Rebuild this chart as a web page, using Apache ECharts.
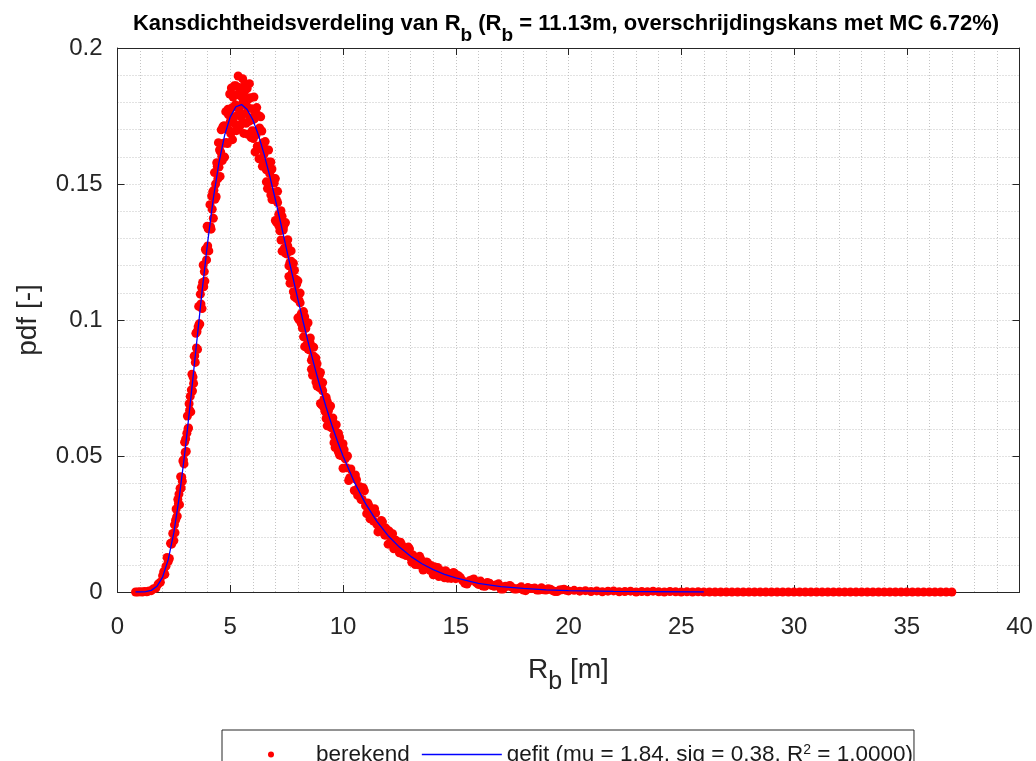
<!DOCTYPE html>
<html>
<head>
<meta charset="utf-8">
<title>Kansdichtheidsverdeling van Rb</title>
<script src="https://cdn.jsdelivr.net/npm/echarts@6/dist/echarts.min.js"></script>
<style>
  html, body { margin: 0; padding: 0; background: #fff; }
  #main { width: 1036px; height: 761px; }
</style>
</head>
<body>
<div id="main"></div>
<script>
// teksten
var titelTekst = 'Kansdichtheidsverdeling van R{sub|b} (R{sub|b} = 11.13m, overschrijdingskans met MC 6.72%)';
var xTitel = 'R{sub|b} [m]';
var yTitel = 'pdf [-]';
var legendaGefit = 'gefit (mu = 1.84, sig = 0.38, R{sup|2} = 1.0000)';

var fitX = [0.8, 1.0, 1.25, 1.5, 1.75, 2.0, 2.25, 2.5, 2.75, 3.0, 3.25, 3.5, 3.75, 4.0, 4.25, 4.5, 4.75,
  5.0, 5.25, 5.5, 5.75, 6.0, 6.25, 6.5, 6.75, 7.0, 7.25, 7.5, 7.75, 8.0, 8.25, 8.5, 8.75, 9.0, 9.25,
  9.5, 9.75, 10, 10.5, 11, 11.5, 12, 12.5, 13, 13.5, 14, 14.5, 15, 16, 17, 18, 19, 20, 22, 24, 26];
var fitY = [0, 0.0000, 0.0001, 0.0006, 0.0021, 0.0055, 0.0119, 0.0219, 0.0355, 0.0522, 0.0711, 0.0909,
  0.1105, 0.1287, 0.1447, 0.1579, 0.1679, 0.1747, 0.1784, 0.1792, 0.1774, 0.1736, 0.1680, 0.1610,
  0.1530, 0.1443, 0.1352, 0.1259, 0.1167, 0.1076, 0.0988, 0.0904, 0.0825, 0.0750, 0.0680, 0.0615,
  0.0555, 0.0500, 0.0404, 0.0325, 0.0260, 0.0207, 0.0165, 0.0131, 0.0104, 0.0082, 0.0065, 0.0052,
  0.0032, 0.0020, 0.0013, 0.0008, 0.0005, 0.0002, 0.0001, 0.0000];

var berekend = [
  [0.8,0],[0.9,0],[1.0,0.0001],[1.1,0],[1.2,0.0002],[1.3,0.0001],[1.4,0.0004],[1.5,0.0005],
  [1.6,0.0012],[1.7,0.0014],[1.8,0.0029],[1.9,0.0036],[2.0,0.0060],
  [2.05,0.0075],[2.1,0.0065],[2.15,0.0095],[2.2,0.0127],[2.25,0.0112],[2.3,0.0123],[2.35,0.0179],
  [2.4,0.0176],[2.45,0.0215],[2.5,0.0189],
  [2.525,0.0247],[2.55,0.0218],[2.575,0.0264],[2.6,0.0305],[2.625,0.0276],[2.65,0.0279],[2.675,0.0340],
  [2.7,0.0324],[2.725,0.0360],[2.75,0.0321],
  [2.775,0.0381],[2.8,0.0424],[2.825,0.0382],[2.85,0.0422],[2.875,0.0407],[2.9,0.0482],[2.925,0.0486],
  [2.95,0.0471],[2.975,0.0551],[3.0,0.0513],
  [3.025,0.0563],[3.05,0.0517],[3.075,0.0584],[3.1,0.0647],[3.125,0.0600],[3.15,0.0603],[3.175,0.0692],
  [3.2,0.0668],[3.225,0.0719],[3.25,0.0662],
  [3.275,0.0743],[3.3,0.0801],[3.325,0.0739],[3.35,0.0790],[3.375,0.0767],[3.4,0.0867],[3.425,0.0869],
  [3.45,0.0844],[3.475,0.0951],[3.5,0.0897],
  [3.525,0.0957],[3.55,0.0892],[3.575,0.0975],[3.6,0.1050],[3.625,0.0986],[3.65,0.0985],[3.675,0.1095],
  [3.7,0.1059],[3.725,0.1120],[3.75,0.1042],
  [3.775,0.1138],[3.8,0.1202],[3.825,0.1122],[3.85,0.1178],[3.875,0.1143],[3.9,0.1260],[3.925,0.1255],
  [3.95,0.1221],[3.975,0.1345],[4.0,0.1272],
  [4.025,0.1335],[4.05,0.1254],[4.075,0.1343],[4.1,0.1424],[4.125,0.1343],[4.15,0.1334],[4.175,0.1456],
  [4.2,0.1407],[4.225,0.1472],[4.25,0.1374],
  [4.275,0.1477],[4.3,0.1542],[4.325,0.1444],[4.35,0.1500],[4.375,0.1453],[4.4,0.1578],[4.425,0.1565],
  [4.45,0.1519],[4.475,0.1652],[4.5,0.1562],
  [4.525,0.1625],[4.55,0.1528],[4.575,0.1618],[4.6,0.1699],[4.625,0.1602],[4.65,0.1586],[4.675,0.1711],
  [4.7,0.1650],[4.725,0.1714],[4.75,0.1599],
  [4.775,0.1704],[4.8,0.1766],[4.825,0.1653],[4.85,0.1706],[4.875,0.1649],[4.9,0.1775],[4.925,0.1754],
  [4.95,0.1697],[4.975,0.1831],[5.0,0.1729],
  [5.025,0.1685],[5.05,0.1853],[5.075,0.1780],[5.1,0.1663],[5.125,0.1820],[5.15,0.1747],[5.175,0.1861],
  [5.2,0.1721],[5.225,0.1791],[5.25,0.1861],[5.275,0.1696],[5.3,0.1829],[5.325,0.1753],[5.35,0.1897],
  [5.375,0.1777],[5.4,0.1855],[5.425,0.1713],[5.45,0.1824],[5.475,0.1747],[5.5,0.1792],
  [5.525,0.1724],[5.55,0.1887],[5.575,0.1809],[5.6,0.1686],[5.625,0.1838],[5.65,0.1759],[5.675,0.1868],
  [5.7,0.1723],[5.725,0.1787],[5.75,0.1851],[5.775,0.1683],[5.8,0.1811],[5.825,0.1730],[5.85,0.1869],
  [5.875,0.1744],[5.9,0.1817],[5.925,0.1671],[5.95,0.1777],[5.975,0.1696],[6.0,0.1736],
  [6.025,0.1667],[6.05,0.1820],[6.075,0.1740],[6.1,0.1618],[6.125,0.1760],[6.15,0.1681],[6.175,0.1781],
  [6.2,0.1639],[6.225,0.1695],[6.25,0.1752],[6.275,0.1593],[6.3,0.1706],[6.325,0.1629],[6.35,0.1747],
  [6.375,0.1636],[6.4,0.1695],[6.425,0.1565],[6.45,0.1652],[6.475,0.1579],[6.5,0.1610],
  [6.55,0.1629],[6.6,0.1508],[6.65,0.1571],[6.7,0.1625],[6.75,0.1503],[6.8,0.1460],[6.85,0.1555],
  [6.9,0.1469],[6.95,0.1503],[7.0,0.1366],[7.05,0.1442],[7.1,0.1473],[7.15,0.1347],[7.2,0.1370],
  [7.25,0.1294],[7.3,0.1381],[7.35,0.1339],[7.4,0.1264],[7.45,0.1358],[7.5,0.1243],
  [7.55,0.1272],[7.6,0.1160],[7.65,0.1212],[7.7,0.1254],[7.75,0.1144],[7.8,0.1104],[7.85,0.1183],
  [7.9,0.1104],[7.95,0.1132],[8.0,0.1008],[8.05,0.1073],[8.1,0.1099],[8.15,0.0987],[8.2,0.1006],
  [8.25,0.0938],[8.3,0.1012],[8.35,0.0976],[8.4,0.0910],[8.45,0.0990],[8.5,0.0890],
  [8.55,0.0914],[8.6,0.0819],[8.65,0.0863],[8.7,0.0900],[8.75,0.0805],[8.8,0.0772],[8.85,0.0839],
  [8.9,0.0774],[8.95,0.0797],[9.0,0.0693],[9.05,0.0748],[9.1,0.0770],[9.15,0.0678],[9.2,0.0694],
  [9.25,0.0638],[9.3,0.0701],[9.35,0.0671],[9.4,0.0619],[9.45,0.0684],[9.5,0.0604],
  [9.55,0.0624],[9.6,0.0549],[9.65,0.0584],[9.7,0.0615],[9.75,0.0539],[9.8,0.0514],[9.85,0.0568],
  [9.9,0.0517],[9.95,0.0536],[10.0,0.0455],
  [10.1,0.0490],[10.2,0.0500],[10.3,0.0420],[10.4,0.0423],[10.5,0.0373],[10.6,0.0413],[10.7,0.0386],
  [10.8,0.0340],[10.9,0.0383],[11.0,0.0317],[11.1,0.0327],[11.2,0.0269],[11.3,0.0290],[11.4,0.0306],
  [11.5,0.0249],[11.6,0.0229],[11.7,0.0263],[11.8,0.0225],[11.9,0.0235],[12.0,0.0176],
  [12.1,0.0205],[12.2,0.0214],[12.3,0.0167],[12.4,0.0173],[12.5,0.0144],[12.6,0.0174],[12.7,0.0159],
  [12.8,0.0134],[12.9,0.0165],[13.0,0.0126],[13.1,0.0136],[13.2,0.0101],[13.3,0.0117],[13.4,0.0131],
  [13.5,0.0097],[13.6,0.0086],[13.7,0.0110],[13.8,0.0089],[13.9,0.0097],[14.0,0.0063],
  [14.1,0.0083],[14.2,0.0090],[14.3,0.0062],[14.4,0.0069],[14.5,0.0052],[14.6,0.0073],[14.7,0.0065],
  [14.8,0.0050],[14.9,0.0072],[15.0,0.0049],
  [15.2,0.0054],[15.4,0.0032],[15.6,0.0041],[15.8,0.0048],[16.0,0.0028],[16.2,0.0022],[16.4,0.0035],
  [16.6,0.0024],[16.8,0.0027],[17.0,0.0011],[17.2,0.0021],[17.4,0.0024],[17.6,0.0011],[17.8,0.0014],
  [18.0,0.0007],[18.2,0.0017],[18.4,0.0013],[18.6,0.0007],[18.8,0.0016],[19.0,0.0007],[19.2,0.0010],
  [19.4,0.0002],[19.6,0.0007],[19.8,0.0010],[20.0,0.0004],
  [20.25,0.0006],[20.5,0.0003],[20.75,0.0005],[21.0,0.0002],[21.25,0.0004],[21.5,0.0001],[21.75,0.0003],
  [22.0,0.0004],[22.25,0.0001],[22.5,0.0002],[22.75,0.0003],[23.0,0],[23.25,0.0002],[23.5,0.0001],
  [23.75,0.0003],[24.0,0.0001],[24.25,0],[24.5,0.0002],[24.75,0.0001],[25.0,0],[25.25,0.0001],
  [25.5,0],[25.75,0.0001],[26.0,0],
  [26.25,0],[26.5,0],[26.75,0],[27.0,0],[27.25,0],[27.5,0],[27.75,0],[28.0,0],[28.25,0],[28.5,0],
  [28.75,0],[29.0,0],[29.25,0],[29.5,0],[29.75,0],[30.0,0],[30.25,0],[30.5,0],[30.75,0],[31.0,0],
  [31.25,0],[31.5,0],[31.75,0],[32.0,0],[32.25,0],[32.5,0],[32.75,0],[33.0,0],[33.25,0],[33.5,0],
  [33.75,0],[34.0,0],[34.25,0],[34.5,0],[34.75,0],[35.0,0],[35.25,0],[35.5,0],[35.75,0],[36.0,0],
  [36.25,0],[36.5,0],[36.75,0],[37.0,0]
];

// extra punten in de dichte band van de dalende flank
var berekendExtra = [
  [6.55,0.1656],[6.6,0.1552],[6.65,0.1483],[6.7,0.1581],[6.75,0.1538],[6.8,0.1581],[6.85,0.1443],
  [6.9,0.1521],[6.95,0.1443],[7.0,0.1520],[7.05,0.1359],[7.1,0.1432],[7.15,0.1388],[7.2,0.1328],
  [7.25,0.1402],[7.3,0.1253],[7.35,0.1331],[7.4,0.1352],[7.45,0.1246],[7.5,0.1251],
  [7.55,0.1295],[7.6,0.1199],[7.65,0.1135],[7.7,0.1216],[7.75,0.1175],[7.8,0.1209],[7.85,0.1085],
  [7.9,0.1150],[7.95,0.1079],[8.0,0.1144],[8.05,0.1001],[8.1,0.1063],[8.15,0.1023],[8.2,0.0970],
  [8.25,0.1031],[8.3,0.0902],[8.35,0.0969],[8.4,0.0986],[8.45,0.0893],[8.5,0.0897],
  [8.55,0.0934],[8.6,0.0852],[8.65,0.0797],[8.7,0.0867],[8.75,0.0832],[8.8,0.0860],[8.85,0.0757],
  [8.9,0.0812],[8.95,0.0752],[9.0,0.0807],[9.05,0.0688],[9.1,0.0740],[9.15,0.0708],[9.2,0.0664],
  [9.25,0.0716],[9.3,0.0611],[9.35,0.0665],[9.4,0.0680],[9.45,0.0606],[9.5,0.0609],
  [9.55,0.0640],[9.6,0.0575],[9.65,0.0531],[9.7,0.0588],[9.75,0.0560],[9.8,0.0584],[9.85,0.0503],
  [9.9,0.0547],[9.95,0.0501],[10.0,0.0545],
  [10.05,0.0523],[10.15,0.0457],[10.25,0.0410],[10.35,0.0452],[10.45,0.0419],[10.55,0.0430],
  [10.65,0.0355],[10.75,0.0387],[10.85,0.0340],[10.95,0.0372],[11.05,0.0288],[11.15,0.0317],
  [11.25,0.0293],[11.35,0.0261],[11.45,0.0290],[11.55,0.0221],[11.65,0.0251],[11.75,0.0258],
  [11.85,0.0209],[11.95,0.0209],[12.05,0.0224],[12.15,0.0185],[12.25,0.0159],[12.35,0.0190],
  [12.45,0.0172],[12.55,0.0183],[12.65,0.0139],[12.75,0.0162],[12.85,0.0136],[12.95,0.0158],
  [13.05,0.0109],[13.15,0.0130],[13.25,0.0117],[13.35,0.0100],[13.45,0.0121],[13.55,0.0081],
  [13.65,0.0101],[13.75,0.0108],[13.85,0.0080],[13.95,0.0082],[14.05,0.0093],[14.15,0.0071],
  [14.25,0.0057],[14.35,0.0078],[14.45,0.0069],[14.55,0.0078],[14.65,0.0051],[14.75,0.0067],
  [14.85,0.0053],[14.95,0.0068],
  [15.1,0.0061],[15.3,0.0042],[15.5,0.0029],[15.7,0.0044],[15.9,0.0035],[16.1,0.0040],[16.3,0.0021],
  [16.5,0.0032],[16.7,0.0021],[16.9,0.0030],[17.1,0.0011],[17.3,0.0021],[17.5,0.0017],[17.7,0.0011],
  [17.9,0.0019],[18.1,0.0005],[18.3,0.0013],[18.5,0.0015],[18.7,0.0007],[18.9,0.0008],[19.1,0.0012],
  [19.3,0.0005],[19.5,0.0002],[19.7,0.0008],[19.9,0.0006]
];

var fitData = [];
for (var i = 0; i < fitX.length; i++) {
  fitData.push([fitX[i], fitY[i]]);
}
var puntenData = berekend.concat(berekendExtra);

var font = 'Liberation Sans, Arial, Helvetica, sans-serif';
var tekstKleur = '#262626';
var gridStijl = { color: '#c4c4c4', width: 1, type: [1, 2] };

var myChart = echarts.init(document.getElementById('main'));

var option = {
  animation: false,
  backgroundColor: '#ffffff',
  textStyle: { fontFamily: font },
  title: {
    text: titelTekst,
    left: 566,
    top: 2,
    padding: 0,
    textAlign: 'center',
    textStyle: {
      fontFamily: font, fontSize: 22, fontWeight: 'bold', color: '#000', lineHeight: 44,
      rich: {
        sub: { fontFamily: font, fontSize: 19, fontWeight: 'bold', color: '#000', verticalAlign: 'top', padding: [24, 0, 0, 0] }
      }
    }
  },
  grid: { left: 117.5, right: 16.5, top: 48, bottom: 169 },
  legend: {
    left: 222,
    top: 730,
    orient: 'horizontal',
    padding: [13, 1, 24, 46],
    itemWidth: 80,
    itemHeight: 6,
    itemGap: 12,
    borderColor: tekstKleur,
    borderWidth: 1,
    selectedMode: false,
    textStyle: {
      fontFamily: font, fontSize: 22.5, color: '#1a1a1a',
      rich: {
        sup: { fontFamily: font, fontSize: 14, color: '#1a1a1a', verticalAlign: 'top' }
      }
    },
    formatter: function (name) {
      return name === 'gefit' ? legendaGefit : name;
    },
    data: [
      { name: 'berekend', icon: 'circle' },
      { name: 'gefit', icon: 'path://M0,0L80,0L80,1.4L0,1.4Z' }
    ]
  },
  xAxis: [
    {
      type: 'value', min: 0, max: 40, interval: 5, position: 'bottom',
      name: xTitel, nameLocation: 'middle', nameGap: 49,
      nameTextStyle: {
        fontFamily: font, fontSize: 28, color: tekstKleur, lineHeight: 52,
        rich: { sub: { fontFamily: font, fontSize: 25, color: tekstKleur, verticalAlign: 'top', padding: [26, 0, 0, 0] } }
      },
      axisLine: { onZero: false, lineStyle: { color: tekstKleur, width: 1 } },
      axisTick: { inside: true, length: 7, lineStyle: { color: tekstKleur } },
      axisLabel: { fontFamily: font, fontSize: 24, color: tekstKleur, margin: 23 },
      splitLine: { show: true, lineStyle: gridStijl },
      minorTick: { show: false, splitNumber: 5 },
      minorSplitLine: { show: true, lineStyle: gridStijl }
    },
    {
      type: 'value', min: 0, max: 40, interval: 5, position: 'top',
      axisLine: { onZero: false, lineStyle: { color: tekstKleur, width: 1 } },
      axisTick: { inside: true, length: 7, lineStyle: { color: tekstKleur } },
      axisLabel: { show: false },
      splitLine: { show: false }
    }
  ],
  yAxis: [
    {
      type: 'value', min: 0, max: 0.2, interval: 0.05, position: 'left',
      name: yTitel, nameLocation: 'middle', nameGap: 75, nameRotate: 90,
      nameTextStyle: { fontFamily: font, fontSize: 28, color: tekstKleur },
      axisLine: { onZero: false, lineStyle: { color: tekstKleur, width: 1 } },
      axisTick: { inside: true, length: 7, lineStyle: { color: tekstKleur } },
      axisLabel: { fontFamily: font, fontSize: 24, color: tekstKleur, margin: 15 },
      splitLine: { show: true, lineStyle: gridStijl },
      minorTick: { show: false, splitNumber: 5 },
      minorSplitLine: { show: true, lineStyle: gridStijl }
    },
    {
      type: 'value', min: 0, max: 0.2, interval: 0.05, position: 'right',
      axisLine: { onZero: false, lineStyle: { color: tekstKleur, width: 1 } },
      axisTick: { inside: true, length: 7, lineStyle: { color: tekstKleur } },
      axisLabel: { show: false },
      splitLine: { show: false }
    }
  ],
  series: [
    {
      name: 'berekend',
      type: 'scatter',
      data: puntenData,
      symbol: 'circle',
      symbolSize: 9,
      itemStyle: { color: '#ff0000', opacity: 1 },
      silent: true,
      z: 2
    },
    {
      name: 'gefit',
      type: 'line',
      data: fitData,
      symbol: 'none',
      lineStyle: { color: '#0000ff', width: 1.3 },
      itemStyle: { color: '#0000ff' },
      silent: true,
      z: 3
    }
  ]
};

myChart.setOption(option);
</script>
</body>
</html>
